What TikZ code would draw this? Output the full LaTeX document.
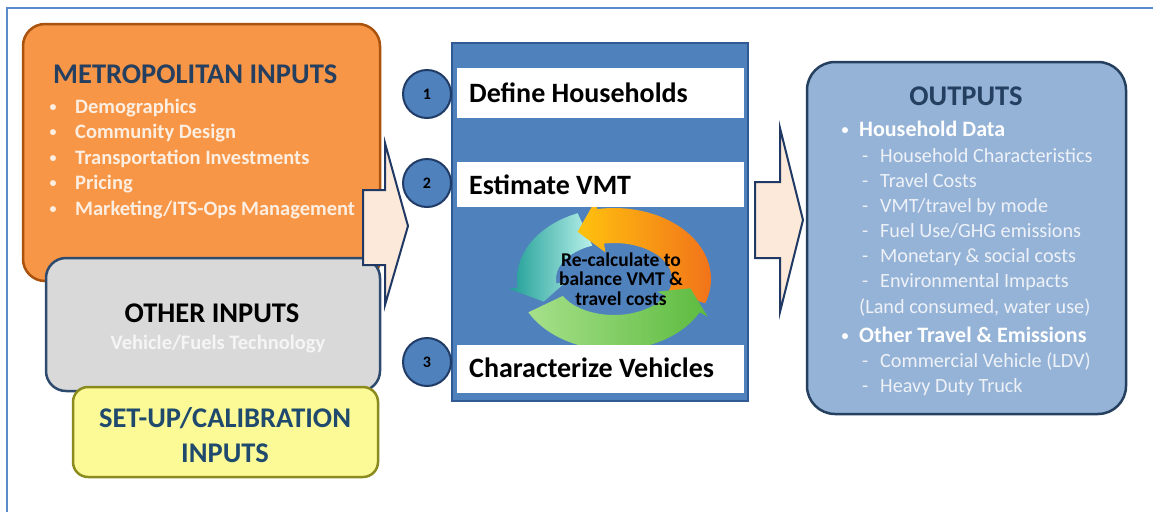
\documentclass[tikz,border=0pt]{standalone}
\usepackage{fontspec}
\setmainfont{Carlito}
\usetikzlibrary{calc}
\definecolor{frameblue}{HTML}{5B8BC9}
\definecolor{metrofill}{HTML}{F79646}
\definecolor{metroedge}{HTML}{A9530F}
\definecolor{navy}{HTML}{243F60}
\definecolor{grayfill}{HTML}{D9D9D9}
\definecolor{slate}{HTML}{2E4A6E}
\definecolor{yellowfill}{HTML}{FCFA96}
\definecolor{olive}{HTML}{8A8A1E}
\definecolor{setblue}{HTML}{1F4A6E}
\definecolor{midblue}{HTML}{4F81BD}
\definecolor{midedge}{HTML}{2F5A93}
\definecolor{circedge}{HTML}{1F3B66}
\definecolor{peach}{HTML}{FDE9D9}
\definecolor{arrowedge}{HTML}{1F3864}
\definecolor{outfill}{HTML}{95B3D7}
\definecolor{outedge}{HTML}{253F5F}
\definecolor{cream}{HTML}{FDEEE2}
\definecolor{paleblue}{HTML}{EEF2F8}
\definecolor{orA}{HTML}{FFC20E}
\definecolor{orB}{HTML}{F2731A}
\definecolor{teA}{HTML}{1E9E96}
\definecolor{teB}{HTML}{B9F0EA}
\definecolor{grA}{HTML}{A6E08A}
\definecolor{grB}{HTML}{5DBB3F}
\newcommand\fsz[1]{\fontsize{#1}{#1}\selectfont}
\newcommand\cycarrow[4]{%
  \path[#4] plot[domain=#1:#2, samples=40] ({614+97*cos(\x)},{279+71*sin(\x)})
    -- ({614+106*cos(#2)},{279+80*sin(#2)})
    -- ({614+77.5*cos(#3)},{279+53.5*sin(#3)})
    -- ({614+49*cos(#2)},{279+27*sin(#2)})
    -- plot[domain=#2:#1, samples=40] ({614+58*cos(\x)},{279+36*sin(\x)})
    -- cycle;}
\tikzset{
  box/.style={inner sep=0pt, line width=2.5pt},
  band/.style={fill=white, inner sep=0pt, minimum width=287pt},
  numcirc/.style={circle, fill=midblue, draw=circedge, line width=2pt, minimum size=48pt, inner sep=0pt, font=\fsz{16}\bfseries},
  blockarrow/.style={fill=peach, draw=arrowedge, line width=2pt, line join=miter},
  title/.style={inner sep=0pt, font=\fsz{28.5}\bfseries},
  item/.style={inner sep=0pt, anchor=base west, font=\fsz{20.5}\bfseries, text=cream},
  smallbullet/.style={inner sep=0pt, anchor=base, font=\fsz{14}\bfseries},
  oitem/.style={inner sep=0pt, anchor=base west, font=\fsz{20.2}, text=paleblue},
  ohead/.style={inner sep=0pt, anchor=base west, font=\fsz{22}\bfseries, text=white},
  steptext/.style={inner sep=0pt, anchor=base west, font=\fsz{28}\bfseries, text=black},
  recalc/.style={inner sep=0pt, align=center, font=\fontsize{19.5}{19.5}\selectfont\bfseries, text=black}
}
\begin{document}
\begin{tikzpicture}[x=1pt,y=-1pt]
\useasboundingbox (0,0) rectangle (1153,512);
\fill[white] (0,0) rectangle (1153,512);
\draw[frameblue, line width=1.5pt] (7,512) -- (7,8) -- (1153,8);

% left boxes
\node[box, fill=metrofill, draw=metroedge, rounded corners=22pt, minimum width=357pt, minimum height=257pt] (metro) at (201.5,152.5) {};
\node[box, fill=grayfill, draw=slate, rounded corners=20pt, minimum width=334pt, minimum height=133pt] (other) at (213,324.5) {};
\node[box, fill=yellowfill, draw=olive, rounded corners=15pt, minimum width=305pt, minimum height=90pt] (setup) at (225.5,432) {};

\node[title, anchor=base west, text=navy] (metrot) at (53,83) {METROPOLITAN INPUTS};
\foreach \t [count=\i] in {Demographics, Community Design, Transportation Investments, Pricing, Marketing/ITS-Ops Management}{
  \node[smallbullet, text=cream] (mb\i) at (53,{111+25.5*(\i-1)}) {\textbullet};
  \node[item] (mi\i) at (75,{113+25.5*(\i-1)}) {\t};
}
\node[title, anchor=base, text=black] (othert) at (212,322) {OTHER INPUTS};
\node[item, anchor=base, text=white!92!gray] (otheri) at (218,349) {Vehicle/Fuels Technology};
\node[title, anchor=base, text=setblue] (setupt1) at (225,427) {SET-UP/CALIBRATION};
\node[title, anchor=base, text=setblue] (setupt2) at (225,462) {INPUTS};

% left block arrow
\draw[blockarrow] (363,190) -- (385,190) -- (385,143) -- (408,226) -- (385,305) -- (385,265) -- (363,265) -- cycle;

% middle box
\node[fill=midblue, draw=midedge, line width=2pt, inner sep=0pt, minimum width=296pt, minimum height=358pt] (model) at (600,222) {};

% cycle arrows
\cycarrow{-112}{-187}{-205}{left color=teA, right color=teB}
\cycarrow{20}{-100}{-118}{left color=orA, right color=orB}
\cycarrow{152}{28}{10}{left color=grA, right color=grB}

\node[band, minimum height=50pt] (b1) at (600.5,93) {};
\node[band, minimum height=45pt] (b2) at (600.5,184.5) {};
\node[band, minimum height=48pt] (b3) at (600.5,369) {};
\node[steptext] (s1) at (469,102) {Define Households};
\node[steptext] (s2) at (469,194) {Estimate VMT};
\node[steptext] (s3) at (469,377) {Characterize Vehicles};

\node[recalc] (recalc) at (621,279) {Re-calculate to\\balance VMT \&\\travel costs};

\node[numcirc] (n1) at (427,94) {1};
\node[numcirc] (n2) at (427,183) {2};
\node[numcirc] (n3) at (427,362) {3};

% right block arrow
\draw[blockarrow] (755,182) -- (780,182) -- (780,128) -- (803,220) -- (780,312) -- (780,258) -- (755,258) -- cycle;

% outputs
\node[box, fill=outfill, draw=outedge, line width=2.5pt, rounded corners=28pt, minimum width=319pt, minimum height=352pt] (outputs) at (966.5,238) {};
\node[title, anchor=base, text=navy] (outt) at (966,105) {OUTPUTS};
\node[smallbullet, text=white] (ob1) at (845,134) {\textbullet};
\node[ohead] (oh1) at (859,136) {Household Data};
\foreach \t [count=\i] in {Household Characteristics, Travel Costs, VMT/travel by mode, Fuel Use/GHG emissions, Monetary \& social costs, Environmental Impacts}{
  \node[oitem] (od\i) at (862,{162+25*(\i-1)}) {-};
  \node[oitem] (oi\i) at (880,{162+25*(\i-1)}) {\t};
}
\node[oitem] (oland) at (859,313) {(Land consumed, water use)};
\node[smallbullet, text=white] (ob2) at (845,340) {\textbullet};
\node[ohead] (oh2) at (859,342) {Other Travel \& Emissions};
\foreach \t [count=\i] in {Commercial Vehicle (LDV), Heavy Duty Truck}{
  \node[oitem] (oe\i) at (862,{367+25*(\i-1)}) {-};
  \node[oitem] (oj\i) at (880,{367+25*(\i-1)}) {\t};
}
\end{tikzpicture}
\end{document}
